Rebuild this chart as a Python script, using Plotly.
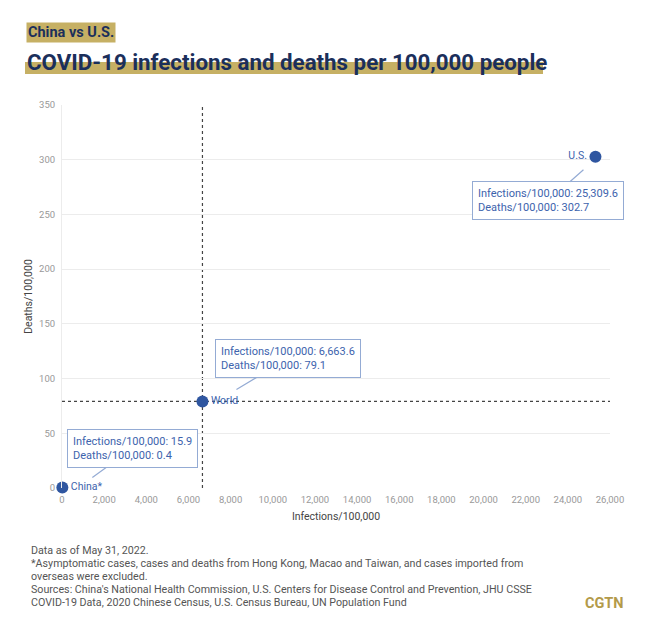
import plotly.graph_objects as go

names = ["China*", "World", "U.S."]
infections = [15.9, 6663.6, 25309.6]
deaths = [0.4, 79.1, 302.7]
label_pos = ["middle right", "middle right", "middle left"]
x_ticks = list(range(0, 26001, 2000))
y_ticks = list(range(0, 351, 50))
foot_lines = [
    "Data as of May 31, 2022.",
    "*Asymptomatic cases, cases and deaths from Hong Kong, Macao and Taiwan, and cases imported from",
    "overseas were excluded.",
    "Sources: China's National Health Commission, U.S. Centers for Disease Control and Prevention, JHU CSSE",
    "COVID-19 Data, 2020 Chinese Census, U.S. Census Bureau, UN Population Fund",
]

OFF = 8  # browser body margin
PAGE_W, PAGE_H = 650, 631
W, H = PAGE_W - OFF, PAGE_H - OFF
PL, PR, PT, PB = 62, 610, 105, 488  # plot area in page pixels
L, T = PL - OFF, PT - OFF
R = W - (PR - OFF)
B = H - (PB - OFF)
PW, PH = PR - PL, PB - PT

def px(x):
    return (x - PL) / PW

def py(y):
    return (PB - y) / PH

FONT = "Roboto, Arial"
NAVY = "#1b2f5b"
GOLD = "#c6b064"
BLUE = "#2f56a0"
TXTBLUE = "#3d63ad"
BOX = "#94abd4"

fig = go.Figure()
fig.add_trace(go.Scatter(
    x=infections, y=deaths, mode="markers+text", text=names,
    textposition=label_pos,
    textfont=dict(family=FONT, size=10.5, color=TXTBLUE),
    marker=dict(size=12, color=BLUE),
    cliponaxis=False, hoverinfo="skip", showlegend=False))

w_x, w_y = infections[1], deaths[1]
fig.add_shape(type="line", x0=w_x, x1=w_x, y0=0, y1=350, xref="x", yref="y",
              line=dict(color="#444", width=1.2, dash="dot"), layer="below")
fig.add_shape(type="line", x0=0, x1=26000, y0=w_y, y1=w_y, xref="x", yref="y",
              line=dict(color="#444", width=1.2, dash="dot"), layer="below")

# title highlight bar
fig.add_shape(type="rect", xref="paper", yref="paper",
              x0=px(25), x1=px(543), y0=py(74), y1=py(62),
              fillcolor=GOLD, line_width=0, layer="below")

# callouts: (xshift, yshift) of tail tip from point; (ax, ay) box centre from tip
callouts = [((30, 10), (40, -29)), ((34, 12), (52, -31)), ((-12, -13), (-35, 31))]
for xi, yi, ((xs, ys), (ax, ay)) in zip(infections, deaths, callouts):
    fig.add_annotation(
        x=xi, y=yi, ax=ax, ay=ay, xref="x", yref="y", xshift=xs, yshift=ys,
        text=f"Infections/100,000: {xi:,.1f}<br>Deaths/100,000: {yi:,.1f}",
        showarrow=True, arrowhead=0, arrowcolor=BOX, arrowwidth=1.2,
        bordercolor=BOX, borderwidth=1, borderpad=5,
        bgcolor="white", align="left",
        font=dict(family=FONT, size=11, color=TXTBLUE))

fig.add_annotation(x=px(26), y=py(33), xref="paper", yref="paper",
                   text="<b>China vs U.S.</b>", showarrow=False,
                   xanchor="left", yanchor="middle", bgcolor=GOLD, borderpad=1,
                   font=dict(family=FONT, size=14.5, color=NAVY))
fig.add_annotation(x=px(25), y=py(62), xref="paper", yref="paper",
                   text="<b>COVID-19 infections and deaths per 100,000 people</b>",
                   showarrow=False, xanchor="left", yanchor="middle",
                   font=dict(family=FONT, size=22.3, color=NAVY))

for i, line in enumerate(foot_lines):
    fig.add_annotation(x=px(29), y=py(550 + 13 * i), xref="paper", yref="paper",
                       text=line, showarrow=False, xanchor="left", yanchor="middle",
                       font=dict(family=FONT, size=10.7, color="#555"))
fig.add_annotation(x=px(626), y=py(603), xref="paper", yref="paper",
                   text="<b>CGTN</b>", showarrow=False, xanchor="right", yanchor="middle",
                   font=dict(family=FONT, size=14.5, color="#b39a4a"))

fig.update_xaxes(range=[0, 26000], tickvals=x_ticks, ticktext=[f"{v:,}" for v in x_ticks],
                 showgrid=False, zeroline=False, showline=False,
                 ticks="outside", ticklen=3, tickcolor="rgba(0,0,0,0)",
                 tickfont=dict(family=FONT, size=9.5, color="#999"),
                 title=dict(text="Infections/100,000", font=dict(family=FONT, size=10.5, color="#444"),
                            standoff=8))
fig.update_yaxes(range=[0, 350], tickvals=y_ticks, showgrid=True, gridcolor="#ececec",
                 zeroline=False, showline=True, linecolor="#ececec",
                 ticks="outside", ticklen=4, tickcolor="rgba(0,0,0,0)",
                 tickfont=dict(family=FONT, size=9.5, color="#999"),
                 title=dict(text="Deaths/100,000", font=dict(family=FONT, size=10.5, color="#444"),
                            standoff=4))
fig.update_layout(width=W, height=H, margin=dict(l=L, r=R, t=T, b=B),
                  paper_bgcolor="white", plot_bgcolor="white",
                  font=dict(family=FONT))
fig.write_html("out.html")
